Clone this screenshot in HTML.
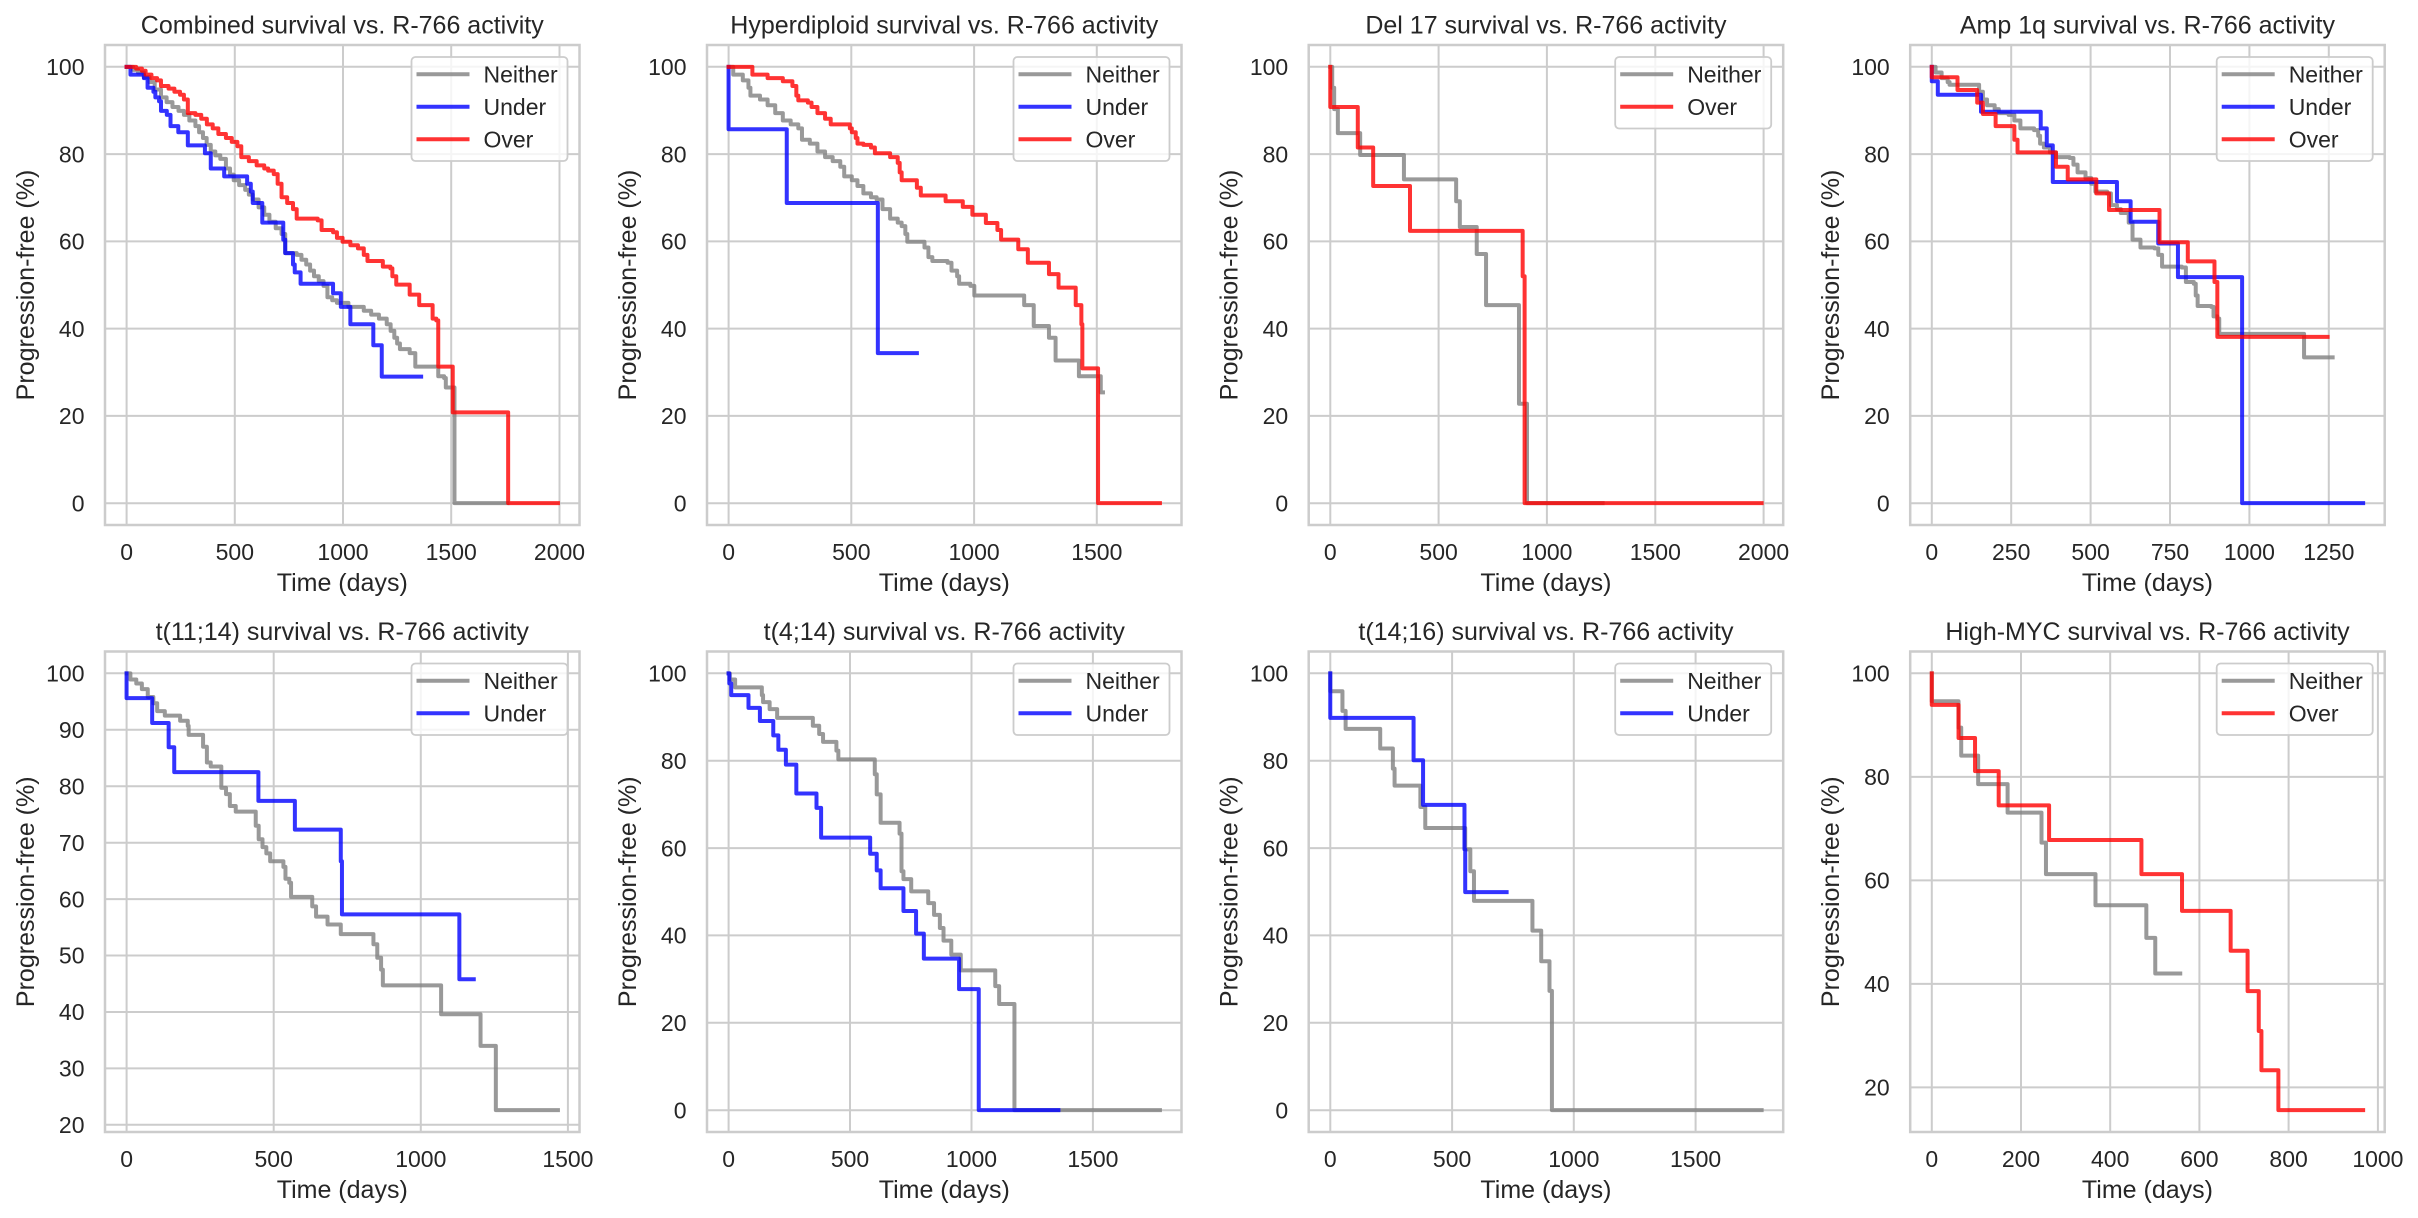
<!DOCTYPE html>
<html><head><meta charset="utf-8"><style>
body{margin:0;background:#fff}
svg{display:block}
text{font-family:"Liberation Sans",Arial,sans-serif;fill:#262626}
.tk{font-size:23px}
.lb{font-size:25px}
.tt{font-size:25px}
.lg{font-size:23px}
.grid{fill:none;stroke:#cccccc;stroke-width:2}
.sp{fill:none;stroke:#cccccc;stroke-width:2.5}
.d{fill:none;stroke-width:4;vector-effect:non-scaling-stroke;stroke-linejoin:round;stroke-linecap:square}
.h{fill:none;stroke-width:4;stroke-linecap:square}
.g{stroke:#808080;stroke-opacity:.8}
.u{stroke:#0000ff;stroke-opacity:.8}
.o{stroke:#ff0000;stroke-opacity:.8}
.lf{fill:#fff;fill-opacity:.8;stroke:#cccccc;stroke-width:1.8}
</style></head><body>
<svg width="2418" height="1218" viewBox="0 0 2418 1218" xmlns="http://www.w3.org/2000/svg">

<!-- ============ PANEL 1 ============ -->
<path class="grid" d="M126.6 45V525M234.8 45V525M343 45V525M451.2 45V525M559.5 45V525M105 503.2H579.5M105 415.9H579.5M105 328.6H579.5M105 241.4H579.5M105 154.1H579.5M105 66.8H579.5"/>
<g transform="translate(126.57,503.18) scale(0.21644,-4.3636)">
<path class="d g" d="M0 100 H30 V99.3 H53 V98.7 H80 V97.6 H106 V96.5 H130 V94.8 H159 V93 H185 V91.9 H212 V90.8 H240 V89.9 H265 V89 H290 V87.7 H318 V86.4 H335 V85 H353 V83.7 H370 V82.1 H389 V80.6 H410 V79.7 H433 V78.9 H459 V76.7 H478 V75.3 H495 V74 H520 V72.9 H548 V71.8 H565 V70.7 H583 V69.6 H610 V67.8 H636 V66.1 H660 V64.5 H689 V63 H716 V61.7 H733 V57.3 H786 V56.9 H808 V55.8 H830 V54.7 H848 V53.3 H866 V52 H888 V50.9 H910 V49.8 H928 V47.2 H950 V46.5 H972 V45.9 H1025 V45 H1096 V44.1 H1130 V43.2 H1166 V42.3 H1202 V41 H1220 V39.5 H1237 V37.9 H1250 V36.6 H1263 V35.3 H1308 V34.4 H1334 V31.3 H1440 V29.1 H1467 V28.7 H1475 V26.5 H1515 V0 H1760"/>
<path class="d u" d="M0 100 H18 V98.2 H80 V97.4 H97 V95.2 H124 V94.3 H133 V93 H150 V92.1 H159 V89.9 H186 V89 H203 V86.4 H239 V85 H283 V82 H362 V80.2 H389 V76.7 H451 V74.9 H557 V73.2 H574 V71.4 H583 V68.8 H627 V64.3 H724 V60.4 H733 V57.3 H769 V54.7 H777 V52.9 H804 V50.3 H954 V48.1 H990 V45 H1034 V41 H1140 V36.2 H1179 V29 H1361"/>
<path class="d o" d="M0 100 H44 V99.6 H71 V99.1 H88 V98.2 H115 V97.4 H141 V96.9 H159 V95.6 H194 V95 H221 V94.3 H247 V93.6 H265 V92.5 H283 V89.4 H318 V89 H345 V88.1 H371 V86.8 H398 V85.9 H424 V84.6 H459 V83.7 H486 V82.8 H512 V81.8 H530 V79.3 H565 V78.4 H601 V77.4 H636 V76.7 H654 V76.2 H680 V75.4 H698 V73.2 H716 V70.1 H742 V68.8 H769 V67.4 H786 V65.2 H883 V64.8 H901 V62.6 H954 V62.1 H972 V60.8 H998 V59.9 H1034 V59.1 H1069 V58.4 H1096 V56.9 H1113 V55.5 H1184 V54.2 H1219 V53.8 H1228 V52 H1246 V50.1 H1308 V47.8 H1352 V45.4 H1414 V42.3 H1431 V41.9 H1440 V31.3 H1507 V20.8 H1763 V0 H1993"/>
</g>
<rect class="sp" x="105" y="45" width="474.5" height="480"/>
<rect class="lf" x="411.5" y="57" width="156" height="104" rx="4"/>
<line class="h g" x1="418.5" y1="74.3" x2="467.5" y2="74.3"/><text class="lg" x="483.5" y="82.5">Neither</text>
<line class="h u" x1="418.5" y1="106.8" x2="467.5" y2="106.8"/><text class="lg" x="483.5" y="115">Under</text>
<line class="h o" x1="418.5" y1="139.3" x2="467.5" y2="139.3"/><text class="lg" x="483.5" y="147.5">Over</text>
<text class="tt" x="342.25" y="33.5" text-anchor="middle">Combined survival vs. R-766 activity</text>
<g class="tk" text-anchor="middle"><text x="126.6" y="560">0</text><text x="234.8" y="560">500</text><text x="343" y="560">1000</text><text x="451.2" y="560">1500</text><text x="559.5" y="560">2000</text></g>
<g class="tk" text-anchor="end"><text x="84.5" y="511.4">0</text><text x="84.5" y="424.1">20</text><text x="84.5" y="336.8">40</text><text x="84.5" y="249.6">60</text><text x="84.5" y="162.3">80</text><text x="84.5" y="75">100</text></g>
<text class="lb" x="342.25" y="591" text-anchor="middle">Time (days)</text>
<text class="lb" transform="translate(34,285) rotate(-90)" text-anchor="middle">Progression-free (%)</text>

<!-- ============ PANEL 2 ============ -->
<path class="grid" d="M728.6 45V525M851.3 45V525M974.1 45V525M1096.8 45V525M707 503.2H1181.5M707 415.9H1181.5M707 328.6H1181.5M707 241.4H1181.5M707 154.1H1181.5M707 66.8H1181.5"/>
<g transform="translate(728.57,503.18) scale(0.24551,-4.3636)">
<path class="d g" d="M0 100 H19 V98.2 H58 V96.9 H81 V95.2 H89 V93.4 H128 V92.5 H159 V91.2 H190 V89.4 H221 V87.7 H253 V86.8 H284 V85.9 H299 V83.3 H331 V82.4 H362 V80.6 H393 V79.3 H424 V78.4 H455 V77.1 H471 V74.9 H502 V74 H525 V72.7 H549 V71 H580 V70.1 H603 V69.6 H627 V67.4 H658 V65.2 H689 V64.3 H705 V63.5 H720 V61.7 H728 V59.9 H798 V58.6 H814 V56.4 H830 V55.5 H892 V55.1 H908 V53.3 H931 V52 H939 V50.3 H985 V49.8 H1001 V47.6 H1204 V45.4 H1243 V40.6 H1305 V37.9 H1332 V32.7 H1427 V29.1 H1516 V25.4 H1525"/>
<path class="d u" d="M0 100 V85.7 H237 V68.8 H608 V34.4 H767"/>
<path class="d o" d="M0 100 H97 V98.2 H159 V97.4 H221 V96.7 H260 V95.6 H276 V93.4 H284 V92.3 H323 V91.8 H338 V90.8 H362 V89.4 H393 V88.1 H416 V86.8 H494 V85.9 H502 V85 H518 V83.7 H525 V82.4 H549 V82.1 H580 V81.5 H596 V80.2 H658 V79.3 H689 V78 H697 V75.8 H705 V74 H767 V72.3 H783 V70.5 H884 V69.2 H954 V67.9 H993 V66.1 H1048 V64.2 H1095 V62.6 H1110 V60.4 H1180 V58.2 H1219 V55.1 H1305 V52.5 H1344 V49.4 H1414 V45.4 H1437 V41 H1441 V30.9 H1505 V0 H1757"/>
</g>
<rect class="sp" x="707" y="45" width="474.5" height="480"/>
<rect class="lf" x="1013.5" y="57" width="156" height="104" rx="4"/>
<line class="h g" x1="1020.5" y1="74.3" x2="1069.5" y2="74.3"/><text class="lg" x="1085.5" y="82.5">Neither</text>
<line class="h u" x1="1020.5" y1="106.8" x2="1069.5" y2="106.8"/><text class="lg" x="1085.5" y="115">Under</text>
<line class="h o" x1="1020.5" y1="139.3" x2="1069.5" y2="139.3"/><text class="lg" x="1085.5" y="147.5">Over</text>
<text class="tt" x="944.25" y="33.5" text-anchor="middle">Hyperdiploid survival vs. R-766 activity</text>
<g class="tk" text-anchor="middle"><text x="728.6" y="560">0</text><text x="851.3" y="560">500</text><text x="974.1" y="560">1000</text><text x="1096.8" y="560">1500</text></g>
<g class="tk" text-anchor="end"><text x="686.5" y="511.4">0</text><text x="686.5" y="424.1">20</text><text x="686.5" y="336.8">40</text><text x="686.5" y="249.6">60</text><text x="686.5" y="162.3">80</text><text x="686.5" y="75">100</text></g>
<text class="lb" x="944.25" y="591" text-anchor="middle">Time (days)</text>
<text class="lb" transform="translate(636,285) rotate(-90)" text-anchor="middle">Progression-free (%)</text>

<!-- ============ PANEL 3 ============ -->
<path class="grid" d="M1330.3 45V525M1438.6 45V525M1546.9 45V525M1655.3 45V525M1763.6 45V525M1308.7 503.2H1783.2M1308.7 415.9H1783.2M1308.7 328.6H1783.2M1308.7 241.4H1783.2M1308.7 154.1H1783.2M1308.7 66.8H1783.2"/>
<g transform="translate(1330.27,503.18) scale(0.21666,-4.3636)">
<path class="d g" d="M0 100 H9 V95.2 H18 V90.3 H35 V84.8 H138 V79.8 H340 V74.2 H581 V69.2 H598 V63.3 H676 V57.1 H719 V45.4 H871 V22.8 H908 V0 H1257"/>
<path class="d o" d="M0 100 V90.8 H127 V81.5 H198 V72.7 H368 V62.4 H888 V52 H897 V0 H1991"/>
</g>
<rect class="sp" x="1308.7" y="45" width="474.5" height="480"/>
<rect class="lf" x="1615.2" y="57" width="156" height="71.5" rx="4"/>
<line class="h g" x1="1622.2" y1="74.3" x2="1671.2" y2="74.3"/><text class="lg" x="1687.2" y="82.5">Neither</text>
<line class="h o" x1="1622.2" y1="106.8" x2="1671.2" y2="106.8"/><text class="lg" x="1687.2" y="115">Over</text>
<text class="tt" x="1545.95" y="33.5" text-anchor="middle">Del 17 survival vs. R-766 activity</text>
<g class="tk" text-anchor="middle"><text x="1330.3" y="560">0</text><text x="1438.6" y="560">500</text><text x="1546.9" y="560">1000</text><text x="1655.3" y="560">1500</text><text x="1763.6" y="560">2000</text></g>
<g class="tk" text-anchor="end"><text x="1288.2" y="511.4">0</text><text x="1288.2" y="424.1">20</text><text x="1288.2" y="336.8">40</text><text x="1288.2" y="249.6">60</text><text x="1288.2" y="162.3">80</text><text x="1288.2" y="75">100</text></g>
<text class="lb" x="1545.95" y="591" text-anchor="middle">Time (days)</text>
<text class="lb" transform="translate(1237.7,285) rotate(-90)" text-anchor="middle">Progression-free (%)</text>

<!-- ============ PANEL 4 ============ -->
<path class="grid" d="M1931.8 45V525M2011.2 45V525M2090.6 45V525M2170 45V525M2249.4 45V525M2328.8 45V525M1910.2 503.2H2384.7M1910.2 415.9H2384.7M1910.2 328.6H2384.7M1910.2 241.4H2384.7M1910.2 154.1H2384.7M1910.2 66.8H2384.7"/>
<g transform="translate(1931.77,503.18) scale(0.31765,-4.3636)">
<path class="d g" d="M0 100 H12 V98.7 H31 V97.4 H50 V96.5 H56 V95.9 H149 V94.3 H161 V92.5 H174 V91.2 H198 V90.3 H211 V89.4 H242 V89 H260 V87.7 H279 V85.9 H322 V85.5 H335 V84.2 H341 V82.4 H353 V81.5 H372 V80.4 H391 V79.3 H434 V79.1 H446 V77.6 H459 V75.8 H484 V74.5 H502 V73.2 H515 V71.4 H552 V71 H564 V68.3 H583 V67.4 H595 V66.5 H620 V64.3 H632 V60.4 H657 V58.6 H701 V58.4 H713 V56.9 H725 V54.2 H787 V54 H800 V50.7 H825 V50.3 H831 V47.6 H837 V45.2 H880 V45 H887 V42.8 H899 V42.3 H905 V38.8 H1172 V33.4 H1262"/>
<path class="d u" d="M0 100 V96.7 H19 V93.6 H155 V89.7 H343 V85.9 H362 V82 H381 V73.6 H583 V69.2 H626 V64.5 H713 V59.5 H775 V51.8 H977 V0 H1358"/>
<path class="d o" d="M0 100 V97.6 H81 V94.7 H143 V91.8 H161 V89.2 H201 V86.4 H260 V83.3 H270 V80.4 H391 V77.1 H428 V74.2 H518 V71 H558 V67.2 H717 V59.8 H806 V55.4 H890 V50.7 H899 V38.1 H1246"/>
</g>
<rect class="sp" x="1910.2" y="45" width="474.5" height="480"/>
<rect class="lf" x="2216.7" y="57" width="156" height="104" rx="4"/>
<line class="h g" x1="2223.7" y1="74.3" x2="2272.7" y2="74.3"/><text class="lg" x="2288.7" y="82.5">Neither</text>
<line class="h u" x1="2223.7" y1="106.8" x2="2272.7" y2="106.8"/><text class="lg" x="2288.7" y="115">Under</text>
<line class="h o" x1="2223.7" y1="139.3" x2="2272.7" y2="139.3"/><text class="lg" x="2288.7" y="147.5">Over</text>
<text class="tt" x="2147.45" y="33.5" text-anchor="middle">Amp 1q survival vs. R-766 activity</text>
<g class="tk" text-anchor="middle"><text x="1931.8" y="560">0</text><text x="2011.2" y="560">250</text><text x="2090.6" y="560">500</text><text x="2170" y="560">750</text><text x="2249.4" y="560">1000</text><text x="2328.8" y="560">1250</text></g>
<g class="tk" text-anchor="end"><text x="1889.7" y="511.4">0</text><text x="1889.7" y="424.1">20</text><text x="1889.7" y="336.8">40</text><text x="1889.7" y="249.6">60</text><text x="1889.7" y="162.3">80</text><text x="1889.7" y="75">100</text></g>
<text class="lb" x="2147.45" y="591" text-anchor="middle">Time (days)</text>
<text class="lb" transform="translate(1839.2,285) rotate(-90)" text-anchor="middle">Progression-free (%)</text>

<!-- ============ PANEL 5 ============ -->
<path class="grid" d="M126.6 651.5V1132M273.7 651.5V1132M420.8 651.5V1132M567.9 651.5V1132M105 1124.8H579.5M105 1068.4H579.5M105 1012H579.5M105 955.5H579.5M105 899.1H579.5M105 842.7H579.5M105 786.2H579.5M105 729.8H579.5M105 673.3H579.5"/>
<g transform="translate(126.57,1237.71) scale(0.29424,-5.6437)">
<path class="d g" d="M0 100 H13 V98.9 H33 V98.2 H52 V97.2 H72 V95.8 H91 V94.7 H104 V93.3 H130 V92.5 H182 V91.6 H208 V90.7 H211 V89.1 H260 V87 H273 V84.2 H286 V83.5 H322 V79.7 H338 V78.6 H351 V76.5 H371 V75.5 H439 V73 H449 V70.6 H462 V69.2 H475 V68.1 H488 V66.7 H533 V65.7 H540 V63.6 H553 V62.9 H559 V60.4 H631 V58.7 H644 V56.9 H683 V55.5 H728 V53.8 H839 V52 H852 V49.6 H865 V47.5 H871 V44.7 H1069 V39.6 H1203 V34 H1255 V22.6 H1466"/>
<path class="d u" d="M0 100 V95.6 H87 V91.2 H143 V86.9 H162 V82.5 H448 V77.4 H572 V72.3 H728 V66.7 H732 V57.3 H1131 V45.8 H1180"/>
</g>
<rect class="sp" x="105" y="651.5" width="474.5" height="480.5"/>
<rect class="lf" x="411.5" y="663.5" width="156" height="71.5" rx="4"/>
<line class="h g" x1="418.5" y1="680.8" x2="467.5" y2="680.8"/><text class="lg" x="483.5" y="689">Neither</text>
<line class="h u" x1="418.5" y1="713.3" x2="467.5" y2="713.3"/><text class="lg" x="483.5" y="721.5">Under</text>
<text class="tt" x="342.25" y="640" text-anchor="middle">t(11;14) survival vs. R-766 activity</text>
<g class="tk" text-anchor="middle"><text x="126.6" y="1167">0</text><text x="273.7" y="1167">500</text><text x="420.8" y="1167">1000</text><text x="567.9" y="1167">1500</text></g>
<g class="tk" text-anchor="end"><text x="84.5" y="1133">20</text><text x="84.5" y="1076.6">30</text><text x="84.5" y="1020.2">40</text><text x="84.5" y="963.7">50</text><text x="84.5" y="907.3">60</text><text x="84.5" y="850.9">70</text><text x="84.5" y="794.4">80</text><text x="84.5" y="738">90</text><text x="84.5" y="681.5">100</text></g>
<text class="lb" x="342.25" y="1198" text-anchor="middle">Time (days)</text>
<text class="lb" transform="translate(34,891.75) rotate(-90)" text-anchor="middle">Progression-free (%)</text>

<!-- ============ PANEL 6 ============ -->
<path class="grid" d="M728.6 651.5V1132M850 651.5V1132M971.5 651.5V1132M1092.9 651.5V1132M707 1110.2H1181.5M707 1022.8H1181.5M707 935.4H1181.5M707 848.1H1181.5M707 760.7H1181.5M707 673.3H1181.5"/>
<g transform="translate(728.57,1110.16) scale(0.24288,-4.3682)">
<path class="d g" d="M0 100 H5 V98.6 H27 V96.8 H137 V95 H142 V93.4 H169 V91.8 H200 V89.8 H347 V88 H373 V86.1 H389 V84.3 H444 V82.3 H452 V80.3 H602 V76.9 H610 V72.3 H626 V65.8 H704 V63.3 H712 V54.7 H720 V52.9 H752 V50.1 H822 V47.4 H846 V44.7 H870 V41.7 H885 V38.8 H917 V35.6 H956 V32 H1098 V28.4 H1114 V24.3 H1177 V0 H1776"/>
<path class="d u" d="M0 100 H3 V97.7 H11 V95 H82 V92.1 H129 V89.1 H184 V85.8 H205 V82.5 H236 V79.1 H279 V72.5 H362 V69.2 H381 V62.4 H583 V58.7 H610 V54.9 H626 V50.8 H720 V45.6 H772 V40.4 H804 V34.7 H949 V27.7 H1030 V0 H1358"/>
</g>
<rect class="sp" x="707" y="651.5" width="474.5" height="480.5"/>
<rect class="lf" x="1013.5" y="663.5" width="156" height="71.5" rx="4"/>
<line class="h g" x1="1020.5" y1="680.8" x2="1069.5" y2="680.8"/><text class="lg" x="1085.5" y="689">Neither</text>
<line class="h u" x1="1020.5" y1="713.3" x2="1069.5" y2="713.3"/><text class="lg" x="1085.5" y="721.5">Under</text>
<text class="tt" x="944.25" y="640" text-anchor="middle">t(4;14) survival vs. R-766 activity</text>
<g class="tk" text-anchor="middle"><text x="728.6" y="1167">0</text><text x="850" y="1167">500</text><text x="971.5" y="1167">1000</text><text x="1092.9" y="1167">1500</text></g>
<g class="tk" text-anchor="end"><text x="686.5" y="1118.4">0</text><text x="686.5" y="1031">20</text><text x="686.5" y="943.6">40</text><text x="686.5" y="856.3">60</text><text x="686.5" y="768.9">80</text><text x="686.5" y="681.5">100</text></g>
<text class="lb" x="944.25" y="1198" text-anchor="middle">Time (days)</text>
<text class="lb" transform="translate(636,891.75) rotate(-90)" text-anchor="middle">Progression-free (%)</text>

<!-- ============ PANEL 7 ============ -->
<path class="grid" d="M1330.3 651.5V1132M1452.1 651.5V1132M1573.8 651.5V1132M1695.6 651.5V1132M1308.7 1110.2H1783.2M1308.7 1022.8H1783.2M1308.7 935.4H1783.2M1308.7 848.1H1783.2M1308.7 760.7H1783.2M1308.7 673.3H1783.2"/>
<g transform="translate(1330.27,1110.16) scale(0.24357,-4.3682)">
<path class="d g" d="M0 100 V95.9 H50 V91.4 H63 V87.3 H205 V82.8 H257 V78.2 H264 V74.3 H370 V69.4 H390 V64.6 H554 V59.7 H575 V54.7 H590 V47.9 H830 V41.1 H866 V34.1 H900 V27.3 H910 V0 H1771"/>
<path class="d u" d="M0 100 V89.8 H342 V80.1 H381 V69.9 H551 V59.7 H554 V49.9 H724"/>
</g>
<rect class="sp" x="1308.7" y="651.5" width="474.5" height="480.5"/>
<rect class="lf" x="1615.2" y="663.5" width="156" height="71.5" rx="4"/>
<line class="h g" x1="1622.2" y1="680.8" x2="1671.2" y2="680.8"/><text class="lg" x="1687.2" y="689">Neither</text>
<line class="h u" x1="1622.2" y1="713.3" x2="1671.2" y2="713.3"/><text class="lg" x="1687.2" y="721.5">Under</text>
<text class="tt" x="1545.95" y="640" text-anchor="middle">t(14;16) survival vs. R-766 activity</text>
<g class="tk" text-anchor="middle"><text x="1330.3" y="1167">0</text><text x="1452.1" y="1167">500</text><text x="1573.8" y="1167">1000</text><text x="1695.6" y="1167">1500</text></g>
<g class="tk" text-anchor="end"><text x="1288.2" y="1118.4">0</text><text x="1288.2" y="1031">20</text><text x="1288.2" y="943.6">40</text><text x="1288.2" y="856.3">60</text><text x="1288.2" y="768.9">80</text><text x="1288.2" y="681.5">100</text></g>
<text class="lb" x="1545.95" y="1198" text-anchor="middle">Time (days)</text>
<text class="lb" transform="translate(1237.7,891.75) rotate(-90)" text-anchor="middle">Progression-free (%)</text>

<!-- ============ PANEL 8 ============ -->
<path class="grid" d="M1931.8 651.5V1132M2021 651.5V1132M2110.2 651.5V1132M2199.4 651.5V1132M2288.6 651.5V1132M2377.9 651.5V1132M1910.2 1087.4H2384.7M1910.2 983.9H2384.7M1910.2 880.4H2384.7M1910.2 776.9H2384.7M1910.2 673.3H2384.7"/>
<g transform="translate(1931.77,1190.9) scale(0.44608,-5.1756)">
<path class="d g" d="M0 100 V94.6 H60 V89.5 H66 V84.1 H104 V78.6 H170 V73.1 H246 V67.3 H256 V61.2 H367 V55.2 H481 V48.9 H501 V42 H557"/>
<path class="d o" d="M0 100 V93.9 H60 V87.5 H97 V81.1 H150 V74.5 H263 V67.8 H470 V61.2 H561 V54.1 H670 V46.4 H708 V38.6 H733 V30.9 H739 V23.3 H777 V15.6 H967"/>
</g>
<rect class="sp" x="1910.2" y="651.5" width="474.5" height="480.5"/>
<rect class="lf" x="2216.7" y="663.5" width="156" height="71.5" rx="4"/>
<line class="h g" x1="2223.7" y1="680.8" x2="2272.7" y2="680.8"/><text class="lg" x="2288.7" y="689">Neither</text>
<line class="h o" x1="2223.7" y1="713.3" x2="2272.7" y2="713.3"/><text class="lg" x="2288.7" y="721.5">Over</text>
<text class="tt" x="2147.45" y="640" text-anchor="middle">High-MYC survival vs. R-766 activity</text>
<g class="tk" text-anchor="middle"><text x="1931.8" y="1167">0</text><text x="2021" y="1167">200</text><text x="2110.2" y="1167">400</text><text x="2199.4" y="1167">600</text><text x="2288.6" y="1167">800</text><text x="2377.9" y="1167">1000</text></g>
<g class="tk" text-anchor="end"><text x="1889.7" y="1095.6">20</text><text x="1889.7" y="992.1">40</text><text x="1889.7" y="888.6">60</text><text x="1889.7" y="785.1">80</text><text x="1889.7" y="681.5">100</text></g>
<text class="lb" x="2147.45" y="1198" text-anchor="middle">Time (days)</text>
<text class="lb" transform="translate(1839.2,891.75) rotate(-90)" text-anchor="middle">Progression-free (%)</text>

</svg>
</body></html>
